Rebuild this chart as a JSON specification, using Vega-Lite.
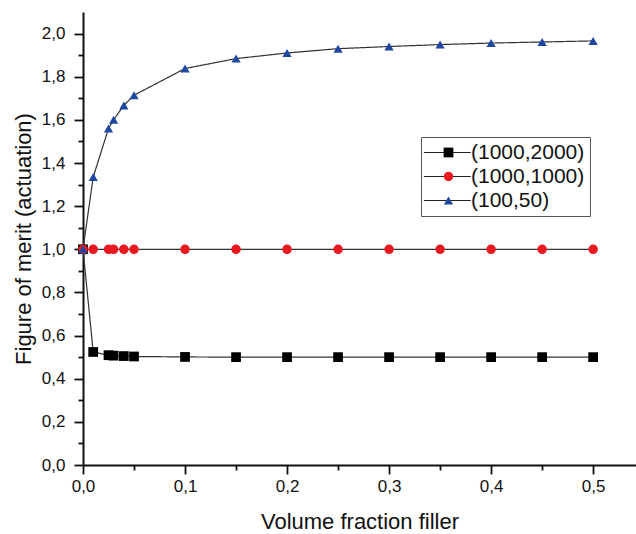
{
  "$schema": "https://vega.github.io/schema/vega-lite/v6.json",
  "autosize": {"type": "none"},
  "padding": {"left": 83, "top": 12, "right": 0, "bottom": 69},
  "width": 553,
  "height": 453,
  "background": "white",
  "data": {
    "values": [
      {"series": "(1000,2000)", "ord": 1, "x": 0, "y": 1.0},
      {"series": "(1000,2000)", "ord": 1, "x": 0.01, "y": 0.524},
      {"series": "(1000,2000)", "ord": 1, "x": 0.025, "y": 0.509},
      {"series": "(1000,2000)", "ord": 1, "x": 0.03, "y": 0.507},
      {"series": "(1000,2000)", "ord": 1, "x": 0.04, "y": 0.505},
      {"series": "(1000,2000)", "ord": 1, "x": 0.05, "y": 0.503},
      {"series": "(1000,2000)", "ord": 1, "x": 0.1, "y": 0.501},
      {"series": "(1000,2000)", "ord": 1, "x": 0.15, "y": 0.5},
      {"series": "(1000,2000)", "ord": 1, "x": 0.2, "y": 0.5},
      {"series": "(1000,2000)", "ord": 1, "x": 0.25, "y": 0.5},
      {"series": "(1000,2000)", "ord": 1, "x": 0.3, "y": 0.5},
      {"series": "(1000,2000)", "ord": 1, "x": 0.35, "y": 0.5},
      {"series": "(1000,2000)", "ord": 1, "x": 0.4, "y": 0.5},
      {"series": "(1000,2000)", "ord": 1, "x": 0.45, "y": 0.5},
      {"series": "(1000,2000)", "ord": 1, "x": 0.5, "y": 0.5},
      {"series": "(1000,1000)", "ord": 2, "x": 0, "y": 1.0},
      {"series": "(1000,1000)", "ord": 2, "x": 0.01, "y": 1.0},
      {"series": "(1000,1000)", "ord": 2, "x": 0.025, "y": 1.0},
      {"series": "(1000,1000)", "ord": 2, "x": 0.03, "y": 1.0},
      {"series": "(1000,1000)", "ord": 2, "x": 0.04, "y": 1.0},
      {"series": "(1000,1000)", "ord": 2, "x": 0.05, "y": 1.0},
      {"series": "(1000,1000)", "ord": 2, "x": 0.1, "y": 1.0},
      {"series": "(1000,1000)", "ord": 2, "x": 0.15, "y": 1.0},
      {"series": "(1000,1000)", "ord": 2, "x": 0.2, "y": 1.0},
      {"series": "(1000,1000)", "ord": 2, "x": 0.25, "y": 1.0},
      {"series": "(1000,1000)", "ord": 2, "x": 0.3, "y": 1.0},
      {"series": "(1000,1000)", "ord": 2, "x": 0.35, "y": 1.0},
      {"series": "(1000,1000)", "ord": 2, "x": 0.4, "y": 1.0},
      {"series": "(1000,1000)", "ord": 2, "x": 0.45, "y": 1.0},
      {"series": "(1000,1000)", "ord": 2, "x": 0.5, "y": 1.0},
      {"series": "(100,50)", "ord": 3, "x": 0, "y": 1.0},
      {"series": "(100,50)", "ord": 3, "x": 0.01, "y": 1.335},
      {"series": "(100,50)", "ord": 3, "x": 0.025, "y": 1.56},
      {"series": "(100,50)", "ord": 3, "x": 0.03, "y": 1.60},
      {"series": "(100,50)", "ord": 3, "x": 0.04, "y": 1.667},
      {"series": "(100,50)", "ord": 3, "x": 0.05, "y": 1.714},
      {"series": "(100,50)", "ord": 3, "x": 0.1, "y": 1.838},
      {"series": "(100,50)", "ord": 3, "x": 0.15, "y": 1.884},
      {"series": "(100,50)", "ord": 3, "x": 0.2, "y": 1.910},
      {"series": "(100,50)", "ord": 3, "x": 0.25, "y": 1.930},
      {"series": "(100,50)", "ord": 3, "x": 0.3, "y": 1.940},
      {"series": "(100,50)", "ord": 3, "x": 0.35, "y": 1.949},
      {"series": "(100,50)", "ord": 3, "x": 0.4, "y": 1.956},
      {"series": "(100,50)", "ord": 3, "x": 0.45, "y": 1.961},
      {"series": "(100,50)", "ord": 3, "x": 0.5, "y": 1.966}
    ]
  },
  "encoding": {
    "x": {
      "field": "x",
      "type": "quantitative",
      "scale": {"domain": [0, 0.542], "nice": false, "zero": false},
      "axis": {
        "title": "Volume fraction filler",
        "values": [0, 0.05, 0.1, 0.15, 0.2, 0.25, 0.3, 0.35, 0.4, 0.45, 0.5],
        "labelExpr": "abs(datum.value*10 - round(datum.value*10)) < 0.001 ? replace(format(datum.value, '.1f'), '.', ',') : ''",
        "tickSize": {"condition": {"test": "abs(datum.value*10 - round(datum.value*10)) < 0.001", "value": 9}, "value": 5},
        "labelFlush": false,
        "labelPadding": 4,
        "titlePadding": 17
      }
    },
    "y": {
      "field": "y",
      "type": "quantitative",
      "scale": {"domain": [0, 2.1], "nice": false},
      "axis": {
        "title": "Figure of merit (actuation)",
        "values": [0, 0.1, 0.2, 0.3, 0.4, 0.5, 0.6, 0.7, 0.8, 0.9, 1.0, 1.1, 1.2, 1.3, 1.4, 1.5, 1.6, 1.7, 1.8, 1.9, 2.0],
        "labelExpr": "abs(datum.value*5 - round(datum.value*5)) < 0.001 ? replace(format(datum.value, '.1f'), '.', ',') : ''",
        "tickSize": {"condition": {"test": "abs(datum.value*5 - round(datum.value*5)) < 0.001", "value": 9}, "value": 5},
        "labelFlush": false,
        "labelPadding": 9,
        "titlePadding": 6
      }
    }
  },
  "layer": [
    {
      "mark": {"type": "line", "color": "#333333", "strokeWidth": 1.2},
      "encoding": {
        "strokeDash": {
          "field": "series",
          "type": "nominal",
          "sort": {"field": "ord", "op": "min"},
          "scale": {"range": [[1, 0], [1, 0], [1, 0]]},
          "legend": {
            "orient": "none",
            "legendX": 338,
            "legendY": 125,
            "title": null,
            "symbolType": "M-2.7,0H7.3",
            "symbolSize": 88,
            "symbolStrokeWidth": 1.2,
            "symbolStrokeColor": "#222222",
            "symbolFillColor": "transparent",
            "labelFontSize": 21,
            "labelOffset": 24,
            "rowPadding": 2,
            "padding": 5,
            "strokeColor": "#555555",
            "labelColor": "#111111",
            "labelFont": "Liberation Sans",
            "labelLimit": 300
          }
        }
      }
    },
    {
      "mark": {"type": "point", "filled": true, "opacity": 1},
      "encoding": {
        "color": {
          "field": "series",
          "type": "nominal",
          "scale": {"domain": ["(1000,2000)", "(1000,1000)", "(100,50)"], "range": ["#000000", "#e8191f", "#1f47a0"]},
          "legend": {
            "orient": "none",
            "legendX": 350,
            "legendY": 125,
            "title": null,
            "symbolSize": 70,
            "symbolStrokeWidth": 0,
            "symbolOpacity": 1,
            "labelFontSize": 21,
            "labelOffset": 2,
            "rowPadding": 2,
            "padding": 5,
            "labelOpacity": 0,
            "labelFont": "Liberation Sans",
            "labelLimit": 300
          }
        },
        "shape": {
          "field": "series",
          "type": "nominal",
          "scale": {"domain": ["(1000,2000)", "(1000,1000)", "(100,50)"], "range": ["square", "circle", "triangle-up"]}
        },
        "size": {
          "field": "series",
          "type": "nominal",
          "scale": {"domain": ["(1000,2000)", "(1000,1000)", "(100,50)"], "range": [95, 85, 165]},
          "legend": null
        }
      }
    }
  ],
  "config": {
    "view": {"stroke": null},
    "font": "Liberation Sans",
    "axis": {
      "grid": false,
      "domainColor": "#111111",
      "domainWidth": 2,
      "tickColor": "#111111",
      "tickWidth": 1.8,
      "labelColor": "#111111",
      "labelFont": "Liberation Sans",
      "labelFontSize": 17,
      "titleFont": "Liberation Sans",
      "titleFontSize": 22,
      "titleFontWeight": "normal",
      "titleColor": "#111111"
    }
  }
}
